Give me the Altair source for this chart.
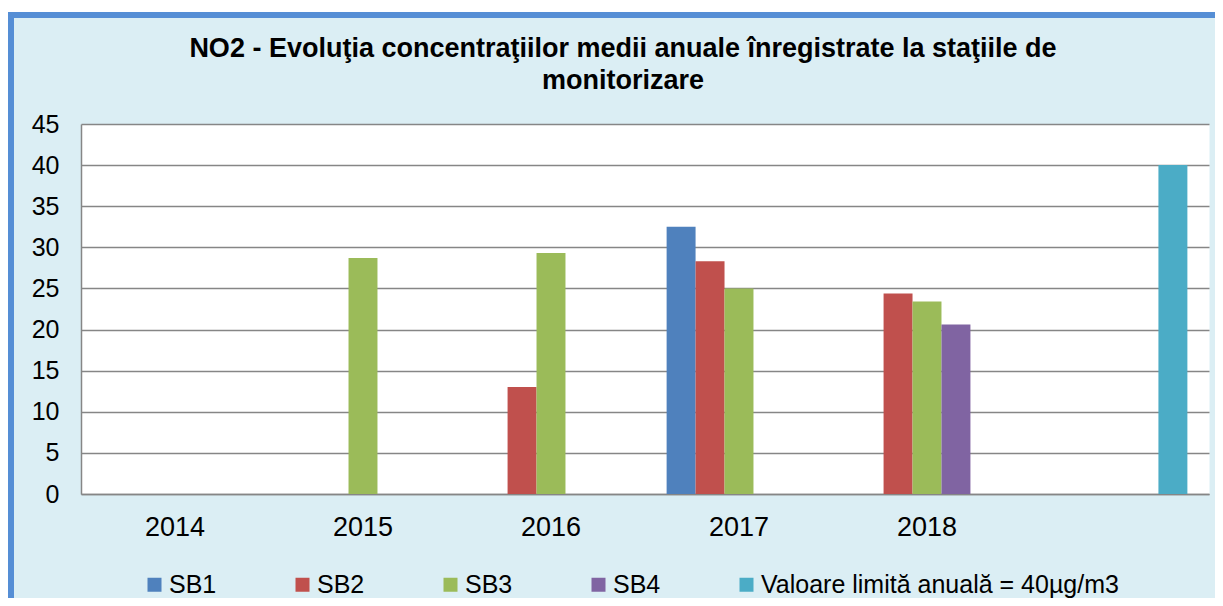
import altair as alt
import pandas as pd

years = ["2014", "2015", "2016", "2017", "2018", " "]
series = ["SB1", "SB2", "SB3", "SB4", "Valoare limită anuală = 40µg/m3"]
colors = ["#4F81BD", "#C0504D", "#9BBB59", "#8064A2", "#4BACC6"]
sb1 = [None, None, None, 32.5, None, None]
sb2 = [None, None, 13.0, 28.3, 24.4, None]
sb3 = [None, 28.7, 29.3, 25.0, 23.4, None]
sb4 = [None, None, None, None, 20.6, None]
limit = [None, None, None, None, None, 40.0]
y_ticks = list(range(0, 46, 5))
title_line1 = "NO2 - Evoluţia concentraţiilor medii anuale înregistrate la staţiile de"
title_line2 = "monitorizare"

rows = []
for name, vals in zip(series, [sb1, sb2, sb3, sb4, limit]):
    for yr, v in zip(years, vals):
        if v is not None:
            rows.append({"An": yr, "Serie": name, "Valoare": v})
df = pd.DataFrame(rows)

FONT = "Liberation Sans"
W, H = 1128, 370

bars = alt.Chart(df).mark_bar().encode(
    x=alt.X(
        "An:N",
        sort=years,
        scale=alt.Scale(domain=years, paddingInner=0.23, paddingOuter=0.115),
        axis=alt.Axis(
            title=None, labelAngle=0, ticks=False, labelFontSize=27,
            labelPadding=20, domainColor="#868686", domainWidth=1.5,
            labelColor="black", labelFont=FONT, grid=False,
        ),
    ),
    xOffset=alt.XOffset("Serie:N", scale=alt.Scale(domain=series)),
    y=alt.Y(
        "Valoare:Q",
        scale=alt.Scale(domain=[0, 45]),
        axis=alt.Axis(
            title=None, values=y_ticks, ticks=False, labelFontSize=25,
            labelPadding=22, domainColor="#868686", domainWidth=1.5,
            gridColor="#868686", gridWidth=1.5, labelColor="black",
            labelFont=FONT,
        ),
    ),
    color=alt.Color(
        "Serie:N",
        scale=alt.Scale(domain=series, range=colors),
        legend=alt.Legend(
            title=None, orient="none", legendX=61, legendY=448,
            direction="horizontal", columns=5, columnPadding=73,
            symbolType="square", symbolSize=196, symbolStrokeWidth=0,
            labelFontSize=25, labelFont=FONT, labelColor="black",
            labelOffset=2, labelLimit=500,
        ),
    ),
)

frame_df = pd.DataFrame({"k": [0]})
white_top = alt.Chart(frame_df).mark_rect(color="white").encode(
    x=alt.value(-80), x2=alt.value(W + 20), y=alt.value(-117), y2=alt.value(-112)
)
border_top = alt.Chart(frame_df).mark_rect(color="#558ED5").encode(
    x=alt.value(-74), x2=alt.value(W + 20), y=alt.value(-112), y2=alt.value(-106)
)
border_left = alt.Chart(frame_df).mark_rect(color="#558ED5").encode(
    x=alt.value(-74), x2=alt.value(-67), y=alt.value(-112), y2=alt.value(H + 120)
)
t1 = alt.Chart(pd.DataFrame({"t": [title_line1]})).mark_text(
    font=FONT, fontSize=27, fontWeight="bold", color="black",
    align="center", baseline="alphabetic",
).encode(text="t:N", x=alt.value(542), y=alt.value(-67))
t2 = alt.Chart(pd.DataFrame({"t": [title_line2]})).mark_text(
    font=FONT, fontSize=27, fontWeight="bold", color="black",
    align="center", baseline="alphabetic",
).encode(text="t:N", x=alt.value(542), y=alt.value(-35))

chart = alt.layer(white_top, border_top, border_left, t1, t2, bars).properties(
    width=W,
    height=H,
    autosize=alt.AutoSizeParams(type="none"),
    padding={"left": 73, "top": 116, "right": 6, "bottom": 104},
).configure(
    background="#DBEEF4",
).configure_view(
    fill="white", stroke="transparent"
)

chart.save("out.html", embed_options={"renderer": "svg", "actions": False})
